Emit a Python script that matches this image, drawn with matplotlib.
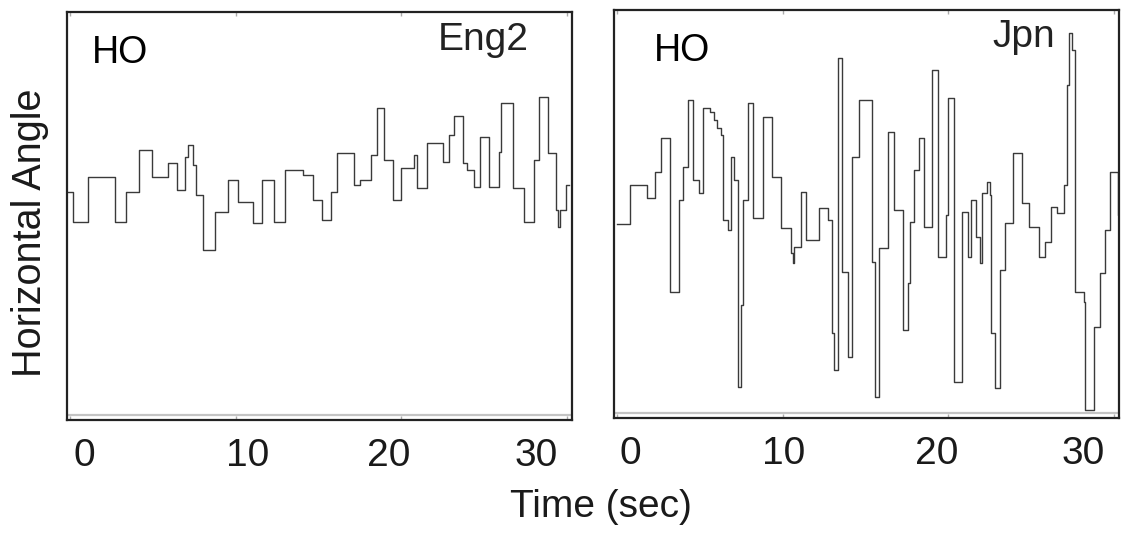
import matplotlib
matplotlib.use("Agg")
import matplotlib.pyplot as plt
from matplotlib.transforms import ScaledTranslation

plt.rcParams['font.family'] = ['Liberation Sans', 'DejaVu Sans']

# ---- data (arbitrary angle units, 0-100 scale) ----
eng_t = [-0.12, 0.18, 1.08, 2.71, 3.37, 4.16, 4.94, 5.90, 6.45, 6.93, 7.11, 7.41,
         7.59, 8.01, 8.73, 9.52, 10.12, 11.02, 11.57, 12.29, 12.95, 14.04, 14.64,
         15.18, 15.72, 16.08, 17.11, 17.47, 18.19, 18.55, 18.92, 19.46, 20.00,
         20.78, 20.96, 21.57, 22.53, 22.89, 23.19, 23.73, 23.98, 24.40, 24.76,
         25.30, 25.90, 26.02, 26.75, 27.41, 28.01, 28.31, 28.86, 29.34, 29.46,
         29.58, 29.94, 30.10]
eng_v = [55.9, 48.5, 59.6, 48.5, 55.9, 66.2, 59.6, 63.0, 56.4, 64.5, 67.4, 62.5,
         55.1, 41.7, 51.0, 58.8, 53.4, 48.3, 58.8, 48.5, 61.3, 60.0, 53.9,
         49.0, 55.9, 65.4, 57.6, 58.8, 65.0, 76.5, 63.7, 53.9, 61.8,
         65.0, 56.9, 67.9, 63.2, 69.9, 74.5, 63.0, 61.3, 57.1, 69.4,
         57.1, 65.7, 77.7, 56.9, 48.5, 63.7, 79.2, 65.4, 51.5, 47.3,
         51.5, 57.6, 57.6]

jpn_t = [0.00, 0.79, 1.82, 2.30, 2.61, 3.21, 3.70, 3.94, 4.24, 4.55, 4.91, 5.15,
         5.58, 5.82, 6.00, 6.24, 6.36, 6.67, 6.85, 7.03, 7.27, 7.45, 7.58, 7.88,
         8.18, 8.79, 9.33, 9.88, 10.48, 10.61, 10.67, 11.09, 11.39, 12.18, 12.73,
         12.97, 13.09, 13.33, 13.58, 13.94, 14.18, 14.61, 15.39, 15.58, 15.82,
         16.36, 16.73, 17.27, 17.58, 17.70, 17.94, 18.24, 18.55, 19.03, 19.39,
         19.88, 20.00, 20.36, 20.79, 21.15, 21.39, 21.64, 21.88, 22.00, 22.30,
         22.48, 22.55, 22.79, 23.09, 23.39, 23.88, 24.42, 24.85, 25.45, 25.82,
         26.18, 26.55, 26.97, 27.15, 27.27, 27.45, 27.64, 28.18, 28.24, 28.79,
         29.15, 29.45, 29.76, 30.24, 30.30]
jpn_v = [47.5, 57.1, 53.9, 60.3, 68.6, 30.9, 53.4, 61.5, 77.9, 58.3, 55.1, 76.0,
         75.0, 73.0, 71.1, 69.4, 48.5, 46.1, 64.0, 58.3, 7.6, 27.7, 53.4, 77.2,
         49.0, 73.8, 59.1, 46.6, 40.4, 38.0, 41.9, 55.4, 43.6, 51.5, 48.5,
         20.8, 11.8, 88.2, 35.8, 15.0, 64.0, 77.9, 38.2, 5.1, 41.7,
         70.1, 51.0, 21.6, 33.1, 48.0, 60.8, 68.6, 46.8, 85.3, 39.5,
         49.8, 78.4, 8.8, 50.5, 39.5, 53.4, 44.4, 38.0, 55.1, 57.8,
         54.7, 20.8, 7.4, 36.3, 47.8, 65.0, 52.7, 46.8, 39.5, 43.1,
         51.7, 50.2, 57.1, 81.6, 94.4, 90.2, 30.9, 28.4, 2.0, 22.3,
         35.5, 46.1, 60.3, 49.8, 49.8]

x_ticks = [0, 10, 20, 30]
panel_names = ["Eng2", "Jpn"]
condition = "HO"

W, H = 1129, 533
fig = plt.figure(figsize=(W / 100, H / 100), dpi=100)

axL = fig.add_axes([67 / W, 1 - 420 / H, 505 / W, 408 / H])
axR = fig.add_axes([614 / W, 1 - 418 / H, 505 / W, 408 / H])

# horizontal nudges (pixels) of the tick labels, as placed in the original figure
label_nudge = {axL: [14, 12, -13, -31], axR: [13, 1, -12, -31]}

for ax, t, v in [(axL, eng_t, eng_v), (axR, jpn_t, jpn_v)]:
    ax.step(t, v, where='post', color='#3a3a3a', lw=1.0)
    ax.axhline(1.3, color='#c4c4c4', lw=1.6, zorder=1)
    ax.set_xlim(-0.2, 30.3)
    ax.set_ylim(0, 100)
    ax.set_yticks([])
    ax.set_xticks(x_ticks)
    ax.set_xticklabels([str(x) for x in x_ticks])
    ax.tick_params(axis='x', direction='in', length=3, width=1, color='#aaaaaa',
                   top=True, labelsize=28, pad=13, labelcolor='#1a1a1a')
    for lab, dx in zip(ax.get_xticklabels(), label_nudge[ax]):
        lab.set_transform(lab.get_transform() +
                          ScaledTranslation(dx / 100, 0, fig.dpi_scale_trans))
    for s in ax.spines.values():
        s.set_color('#222222')
        s.set_linewidth(1.6)
    ax.text(0.05 if ax is axL else 0.079, 0.875, condition, transform=ax.transAxes,
            fontsize=27, ha='left', va='baseline')

axL.text(529 / W, 1 - 50 / H, panel_names[0], transform=fig.transFigure, fontsize=28,
         ha='right', va='baseline', color='#222222')
axR.text(1055 / W, 1 - 47 / H, panel_names[1], transform=fig.transFigure, fontsize=28,
         ha='right', va='baseline', color='#222222')

fig.text(601 / W, 1 - 517 / H, "Time (sec)", fontsize=28, ha='center', va='baseline',
         color='#1a1a1a')
fig.text(30 / W, 1 - 233 / H, "Horizontal Angle", fontsize=28.5, rotation=90,
         ha='center', va='center', color='#1a1a1a')

fig.savefig("out.png", dpi=100)
